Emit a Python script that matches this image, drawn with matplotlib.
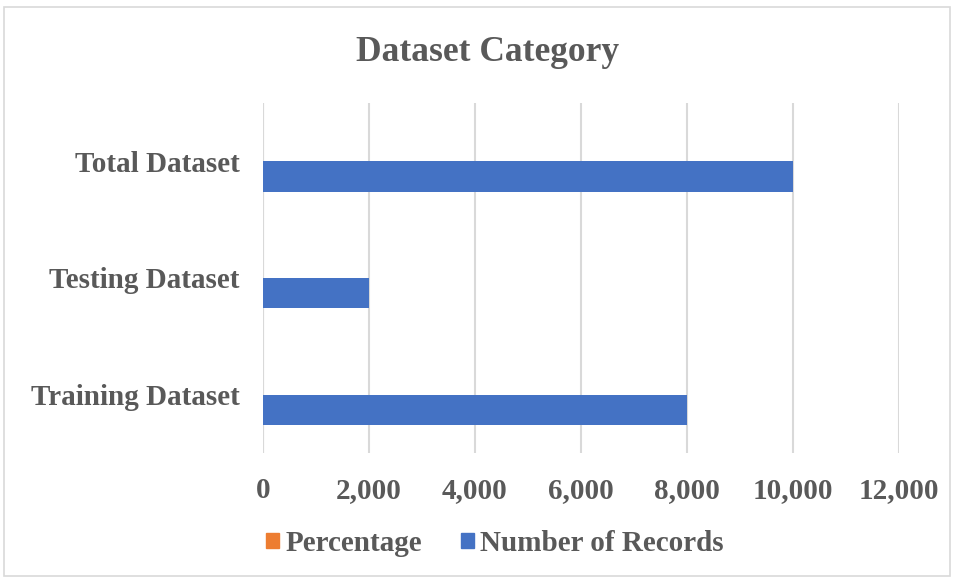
import matplotlib.pyplot as plt
from matplotlib.patches import Rectangle
from matplotlib.ticker import FuncFormatter

categories = ['Training Dataset', 'Testing Dataset', 'Total Dataset']
records = [8000, 2000, 10000]
percentage = [0.8, 0.2, 1.0]
ticks = [0, 2000, 4000, 6000, 8000, 10000, 12000]

blue = '#4472C4'
orange = '#ED7D31'
text_gray = '#595959'
grid_gray = '#D9D9D9'

plt.rcParams['font.family'] = ['Liberation Serif', 'DejaVu Serif']
plt.rcParams['font.weight'] = 'bold'

fig = plt.figure(figsize=(9.54, 5.8), dpi=100)
ax = fig.add_axes([263 / 954, 1 - 453 / 580, 636 / 954, 350 / 580])

# chart border like Excel
fig.patches.append(Rectangle((4 / 954, 4 / 580), 946 / 954, 569 / 580,
                             transform=fig.transFigure, fill=False,
                             edgecolor=grid_gray, linewidth=1.2))

y = list(range(len(categories)))
h = 0.26
ax.barh([v - h / 2 for v in y], records, height=h, color=blue, zorder=3)
ax.barh([v + h / 2 for v in y], percentage, height=h, color=orange, zorder=3)

ax.set_xlim(0, 12000)
ax.set_ylim(-0.5, 2.5)
ax.set_xticks(ticks)
ax.xaxis.set_major_formatter(FuncFormatter(lambda v, p: f'{int(v):,}'))
ax.set_yticks(y)
ax.set_yticklabels(categories)
ax.grid(axis='x', color=grid_gray, linewidth=1.5, zorder=0)
for s in ax.spines.values():
    s.set_visible(False)
ax.axvline(0, color=grid_gray, linewidth=1.5, zorder=1)
ax.tick_params(axis='both', length=0, labelsize=21, labelcolor=text_gray)
ax.tick_params(axis='y', pad=17)
ax.tick_params(axis='x', pad=17)

fig.text(0.511, 0.91, 'Dataset Category', ha='center', va='center',
         fontsize=25.5, color=text_gray, fontweight='bold')

handles = [Rectangle((0, 0), 1, 1, color=orange), Rectangle((0, 0), 1, 1, color=blue)]
fig.legend(handles, ['Percentage', 'Number of Records'], loc='center',
           bbox_to_anchor=(0.519, 0.063), ncol=2, frameon=False,
           fontsize=21, labelcolor=text_gray, handlelength=0.45, handleheight=0.45,
           handletextpad=0.2, columnspacing=1.35)

fig.savefig('out.png', dpi=100)
